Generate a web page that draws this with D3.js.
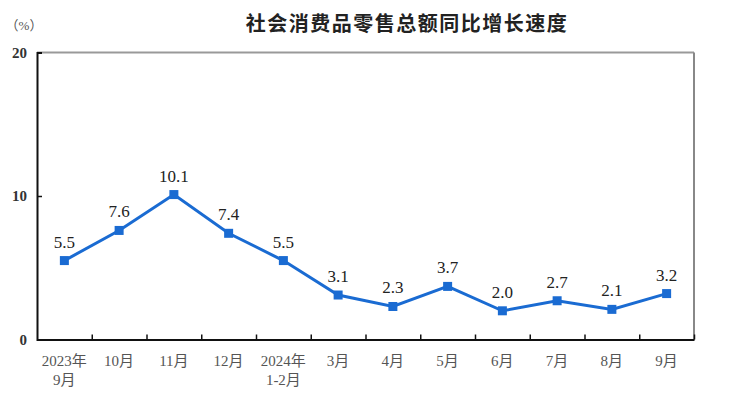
<!DOCTYPE html>
<html><head><meta charset="utf-8">
<script src="https://cdn.jsdelivr.net/npm/d3@7"></script>
<style>body{margin:0;background:#fff}</style>
</head><body>
<svg id="c" width="730" height="393"></svg>
<script>
const categories = [["2023年","9月"],["10月"],["11月"],["12月"],["2024年","1-2月"],["3月"],["4月"],["5月"],["6月"],["7月"],["8月"],["9月"]];
const values = [5.5,7.6,10.1,7.4,5.5,3.1,2.3,3.7,2.0,2.7,2.1,3.2];
const yTicks = [0,10,20];
const title = "社会消费品零售总额同比增长速度";
const unit = "（%）";

const svg = d3.select("#c");
const m = {l:37, r:694, t:52.5, b:339.5};
const x = d3.scaleBand().domain(d3.range(categories.length)).range([m.l, m.r]);
const y = d3.scaleLinear().domain([0,20]).range([m.b, m.t]);
const serif = "'Liberation Serif','Noto Sans CJK SC',serif";

svg.append("text").attr("x",407).attr("y",31).attr("text-anchor","middle")
  .attr("font-family","'Noto Sans CJK SC',sans-serif").attr("font-weight","bold")
  .attr("font-size",20).attr("fill","#222").attr("letter-spacing",1.5).text(title);
svg.append("text").attr("x",24).attr("y",30).attr("text-anchor","middle")
  .attr("font-family",serif).attr("font-size",13).attr("fill","#555").text(unit);

// frame top and right
svg.append("line").attr("x1",m.l).attr("x2",m.r).attr("y1",m.t).attr("y2",m.t).attr("stroke","#999").attr("stroke-width",2);
svg.append("line").attr("x1",m.r).attr("x2",m.r).attr("y1",m.t).attr("y2",m.b).attr("stroke","#888").attr("stroke-width",2);

// y axis
const ya = svg.append("g").attr("transform",`translate(${m.l},0)`)
  .call(d3.axisRight(y).tickValues(yTicks).tickSize(5).tickFormat(""));
ya.select(".domain").attr("stroke","#111").attr("stroke-width",2);
ya.selectAll(".tick line").attr("stroke","#111").attr("stroke-width",1.5);
svg.selectAll(".ylab").data(yTicks).enter().append("text").attr("class","ylab")
  .attr("x",m.l-10).attr("y",d=>y(d)+5).attr("text-anchor","end")
  .attr("font-family",serif).attr("font-weight","bold").attr("font-size",15).attr("fill","#333").text(d=>d);

// x axis
const xb = d3.scaleLinear().domain([0,categories.length]).range([m.l,m.r]);
const xa = svg.append("g").attr("transform",`translate(0,${m.b})`)
  .call(d3.axisTop(xb).tickValues(d3.range(1,categories.length+1)).tickSize(5).tickSizeOuter(0).tickFormat(""));
xa.select(".domain").attr("stroke","#111").attr("stroke-width",2);
xa.selectAll(".tick line").attr("stroke","#111").attr("stroke-width",1.5);
const xl = svg.selectAll(".xlab").data(categories).enter().append("text").attr("class","xlab")
  .attr("x",(d,i)=>x(i)+x.bandwidth()/2).attr("y",366).attr("text-anchor","middle")
  .attr("font-family",serif).attr("font-size",15).attr("fill","#555");
xl.selectAll("tspan").data(d=>d).enter().append("tspan")
  .attr("x",function(){return this.parentNode.getAttribute("x");})
  .attr("dy",(d,i)=>i===0?0:19).text(d=>d);

// line
const col = "#1a6bd2";
svg.append("path").datum(values).attr("fill","none").attr("stroke",col).attr("stroke-width",3)
  .attr("d",d3.line().x((d,i)=>x(i)+x.bandwidth()/2).y(d=>y(d)));
svg.selectAll(".pt").data(values).enter().append("rect").attr("class","pt")
  .attr("x",(d,i)=>x(i)+x.bandwidth()/2-4.5).attr("y",d=>y(d)-4.5).attr("width",9).attr("height",9).attr("fill",col);
svg.selectAll(".vl").data(values).enter().append("text").attr("class","vl")
  .attr("x",(d,i)=>x(i)+x.bandwidth()/2).attr("y",d=>y(d)-13).attr("text-anchor","middle")
  .attr("font-family",serif).attr("font-size",17).attr("fill","#222").text(d=>d.toFixed(1));
</script>
</body></html>
